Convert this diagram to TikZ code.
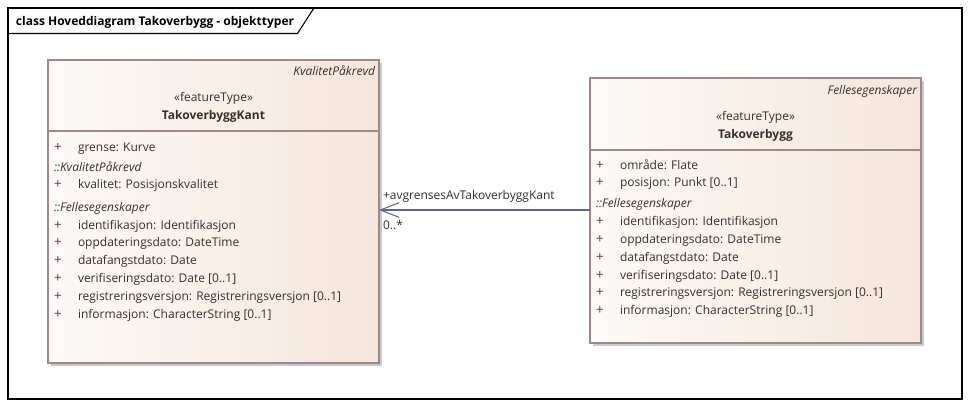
\documentclass[tikz,border=0pt]{standalone}
\usepackage{fontspec}
\setmainfont{Open Sans}
\usetikzlibrary{arrows.meta,shadows}
\definecolor{boxborder}{HTML}{A08888}
\definecolor{boxlight}{HTML}{FDFAF7}
\definecolor{boxdark}{HTML}{F4E6DA}
\definecolor{txt}{HTML}{3A2E2E}
\definecolor{plusc}{HTML}{7A2A50}
\definecolor{assocc}{HTML}{5C6A88}
\definecolor{shadowc}{HTML}{CACACA}
\newcommand\fsz{\fontsize{9}{11}\selectfont}
\begin{document}
\begin{tikzpicture}[x=0.75pt,y=-0.75pt,
  every node/.style={inner sep=0pt,outer sep=0pt,font=\fsz,text=txt},
  umlbox/.style={draw=boxborder,line width=0.8pt,left color=boxlight,right color=boxdark,
     anchor=north west,minimum width=248.25pt,
     drop shadow={shadow xshift=2.6pt,shadow yshift=-2.6pt,fill=shadowc,opacity=1}},
  sepline/.style={draw=boxborder,line width=0.8pt},
  attrtext/.style={anchor=base west},
  grptext/.style={anchor=base west,font=\fsz\itshape},
  plussign/.style={anchor=base,text=plusc,font=\fontsize{10}{11}\selectfont},
  stereo/.style={anchor=base},
  cname/.style={anchor=base,font=\fsz\bfseries},
  abstr/.style={anchor=base east,font=\fsz\itshape},
  frameline/.style={draw=black,line width=0.8pt},
  assoc/.style={draw=assocc,line width=0.8pt},
  lbl/.style={anchor=base west}]
\useasboundingbox (0,0) rectangle (970,407);
\fill[white] (0,0) rectangle (970,407);
% frame
\draw[frameline] (8,8) rectangle (962,399);
\draw[frameline] (8,33.5) -- (297.5,33.5) -- (314,8);
\node[anchor=base west,font=\fsz\bfseries,text=black] (title) at (16,25) {class Hoveddiagram Takoverbygg - objekttyper};
% left class
\node[umlbox,minimum height=227.25pt] (L) at (48,60) {};
\draw[sepline] (L.west |- 0,131) -- (L.east |- 0,131);
\node[abstr] (Labs) at (375,75) {KvalitetPåkrevd};
\node[stereo] (Lst) at (213.5,101.7) {«featureType»};
\node[cname] (Lname) at (213.5,119.3) {TakoverbyggKant};
\node[grptext] (Lg1) at (54,171.5) {::KvalitetPåkrevd};
\node[grptext] (Lg2) at (54,211) {::Fellesegenskaper};
\foreach \yy/\tt [count=\i] in {151/{grense: Kurve},188.7/{kvalitet: Posisjonskvalitet},229/{identifikasjon: Identifikasjon},246.8/{oppdateringsdato: DateTime},264.6/{datafangstdato: Date},282.4/{verifiseringsdato: Date [0..1]},300.2/{registreringsversjon: Registreringsversjon [0..1]},318/{informasjon: CharacterString [0..1]}}{
  \node[plussign] (Lp\i) at (58,\yy) {+};
  \node[attrtext] (La\i) at (78,\yy) {\tt};
}
% right class
\node[umlbox,minimum height=198.75pt] (R) at (590,78) {};
\draw[sepline] (R.west |- 0,150) -- (R.east |- 0,150);
\node[abstr] (Rabs) at (917,94) {Fellesegenskaper};
\node[stereo] (Rst) at (755.5,120.5) {«featureType»};
\node[cname] (Rname) at (755.5,138) {Takoverbygg};
\node[grptext] (Rg1) at (596,207.3) {::Fellesegenskaper};
\foreach \yy/\tt [count=\i] in {169/{område: Flate},186.7/{posisjon: Punkt [0..1]},225.7/{identifikasjon: Identifikasjon},243.4/{oppdateringsdato: DateTime},261.2/{datafangstdato: Date},279/{verifiseringsdato: Date [0..1]},296.8/{registreringsversjon: Registreringsversjon [0..1]},314.5/{informasjon: CharacterString [0..1]}}{
  \node[plussign] (Rp\i) at (600,\yy) {+};
  \node[attrtext] (Ra\i) at (620,\yy) {\tt};
}
% association
\draw[assoc,-{Straight Barb[length=14pt,width=11pt,line width=0.8pt]}] (R.west |- 0,210) -- (L.east |- 0,210);
\node[lbl] (role) at (383,199) {+avgrensesAvTakoverbyggKant};
\node[lbl] (mult) at (383,229) {0..*};
\end{tikzpicture}
\end{document}
